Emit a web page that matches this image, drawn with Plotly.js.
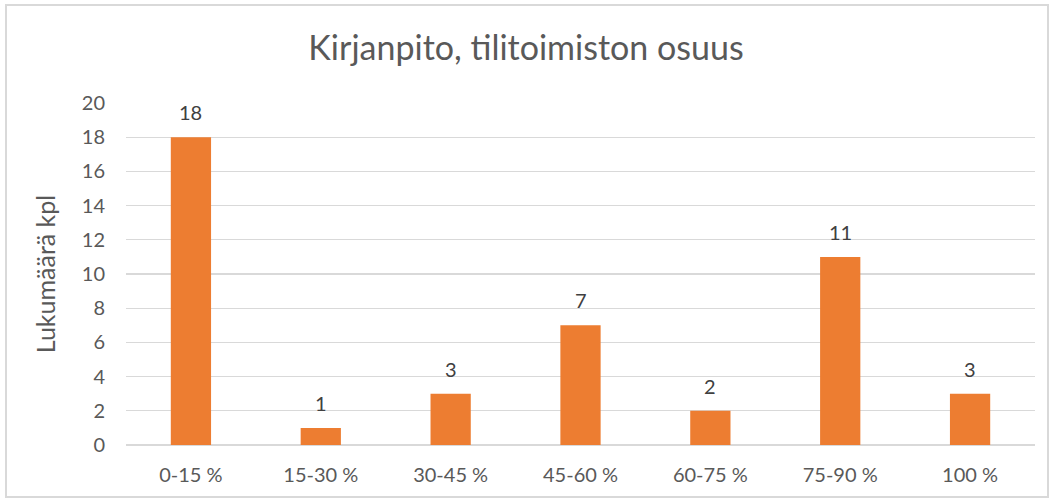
<!DOCTYPE html>
<html>
<head>
<meta charset="utf-8">
<script src="https://cdn.plot.ly/plotly-3.0.1.min.js"></script>
<style>
  html, body { margin: 0; padding: 0; background: #fff; }
  #frame { position: absolute; left: 5px; top: 4px; width: 1044px; height: 494px; border: 2px solid #d9d9d9; box-sizing: border-box; pointer-events: none; }
  #chart { position: absolute; left: 0; top: 0; width: 1052px; height: 502px; }
</style>
</head>
<body>
<div id="chart"></div>
<div id="frame"></div>
<script>
const categories = ["0-15 %", "15-30 %", "30-45 %", "45-60 %", "60-75 %", "75-90 %", "100 %"];
const counts = [18, 1, 3, 7, 2, 11, 3];
const yTicks = [0, 2, 4, 6, 8, 10, 12, 14, 16, 18, 20];

const FONT = "Lato, 'Open Sans', sans-serif";

const trace = {
  type: "bar",
  x: categories,
  y: counts,
  width: 0.31,
  marker: { color: "#ED7D31" },
  hoverinfo: "x+y"
};

const annotations = categories.map((c, i) => ({
  x: c, y: counts[i], xref: "x", yref: "y",
  text: String(counts[i]), showarrow: false,
  yanchor: "bottom", yshift: 11,
  font: { family: FONT, size: 20, color: "#404040" }
}));

const layout = {
  width: 1052, height: 502,
  margin: { l: 126, r: 17, t: 103, b: 57 },
  paper_bgcolor: "#ffffff",
  plot_bgcolor: "#ffffff",
  showlegend: false,
  title: {
    text: "Kirjanpito, tilitoimiston osuus",
    font: { family: FONT, size: 34, color: "#595959" },
    x: 0.5, xanchor: "center", y: 0.905, yanchor: "middle", yref: "container"
  },
  xaxis: {
    type: "category",
    tickfont: { family: FONT, size: 20, color: "#595959" },
    showgrid: false, zeroline: false, showline: false,
    ticks: "", ticklabelstandoff: 16
  },
  yaxis: {
    range: [0, 20],
    tickvals: yTicks,
    tickfont: { family: FONT, size: 20, color: "#595959" },
    showgrid: true, gridcolor: "#d9d9d9", gridwidth: 1.3,
    zeroline: true, zerolinecolor: "#d9d9d9", zerolinewidth: 1.3,
    showline: false, ticks: "", ticklabelstandoff: 20,
    title: { text: "Lukumäärä kpl", font: { family: FONT, size: 25, color: "#595959" }, standoff: 19 }
  },
  annotations: annotations
};

Plotly.newPlot("chart", [trace], layout, { displayModeBar: false, staticPlot: true });
</script>
</body>
</html>
